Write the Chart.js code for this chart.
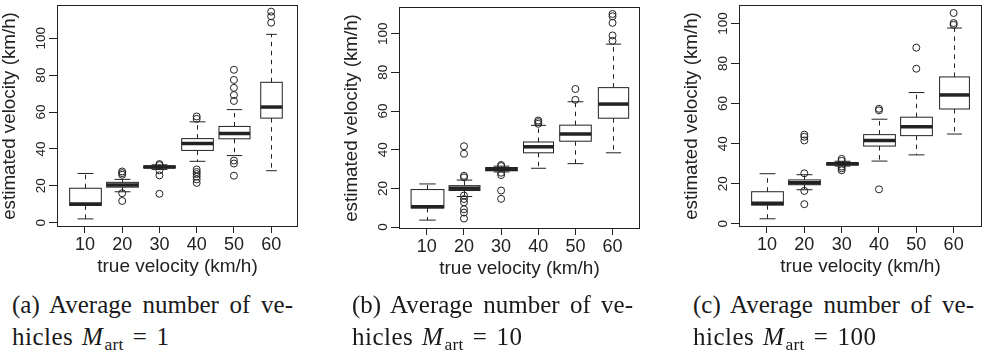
<!DOCTYPE html>
<html>
<head>
<meta charset="utf-8">
<script src="https://cdn.jsdelivr.net/npm/chart.js@4.4.1/dist/chart.umd.min.js"></script>
<style>
  body { margin: 0; background: #fff; }
  #page { position: relative; width: 993px; height: 354px; overflow: hidden; background: #fff; }
  #page canvas { position: absolute; }
  .cap { position: absolute; font-family: "Liberation Serif", "Times New Roman", serif; font-size: 25px; line-height: 20px; color: #1a1a1a; white-space: nowrap; }
  .cap.first { width: 281px; white-space: normal; text-align: justify; text-align-last: justify; }
  .cap.second { letter-spacing: 0.5px; }
  .cap i { margin-left: 2px; }
  .cap sub { font-size: 17.5px; vertical-align: -5px; line-height: 0; letter-spacing: 0.3px; margin-left: 1px; }
  .cap .rel { margin: 0 9px; }
</style>
</head>
<body>
<div id="page">
  <canvas id="velA" width="330" height="290" style="left:0px; top:0px"></canvas>
  <canvas id="velB" width="330" height="290" style="left:342px; top:2px"></canvas>
  <canvas id="velC" width="311" height="290" style="left:682px; top:0px"></canvas>

  <div class="cap first" style="left:12px; top:295px">(a) Average number of ve-</div>
  <div class="cap second" style="left:12px; top:327px">hicles <i>M</i><sub>art</sub><span class="rel">=</span>1</div>
  <div class="cap first" style="left:352px; top:295px">(b) Average number of ve-</div>
  <div class="cap second" style="left:352px; top:327px">hicles <i>M</i><sub>art</sub><span class="rel">=</span>10</div>
  <div class="cap first" style="left:693px; top:295px">(c) Average number of ve-</div>
  <div class="cap second" style="left:693px; top:327px">hicles <i>M</i><sub>art</sub><span class="rel">=</span>100</div>
</div>

<script>
const categories = ['10', '20', '30', '40', '50', '60'];
const yTickValues = [0, 20, 40, 60, 80, 100];

// M_art = 1
const loA  = [2.1, 16.8, 28.9, 33.3, 36.4, 28.2];
const q1A  = [9.4, 19.3, 29.7, 39.2, 45.5, 56.7];
const medA = [10.2, 20.5, 30.2, 43.0, 48.3, 62.7];
const q3A  = [18.7, 21.9, 30.8, 45.6, 52.2, 76.1];
const hiA  = [26.7, 23.5, 31.4, 54.7, 61.3, 102.1];
const outA = [
  [],
  [27.8, 26.9, 26.0, 16.0, 11.8],
  [31.8, 31.2, 28.4, 25.7, 15.7],
  [57.6, 56.3, 28.9, 27.5, 26.4, 25.0, 23.5, 21.6],
  [82.9, 77.4, 73.1, 69.2, 66.0, 33.7, 32.1, 25.5],
  [114.4, 111.9, 108.4]
];
const widthA = [1, 1, 1, 1, 0.98, 0.68];

// M_art = 10
const loB  = [3.6, 15.8, 28.5, 30.4, 32.8, 38.4];
const q1B  = [9.9, 18.9, 29.1, 38.4, 44.4, 56.3];
const medB = [10.5, 20.1, 29.9, 41.5, 48.1, 63.6];
const q3B  = [19.4, 21.4, 30.8, 44.0, 52.7, 72.1];
const hiB  = [22.3, 24.3, 31.5, 52.6, 64.8, 94.6];
const outB = [
  [],
  [41.8, 37.9, 26.5, 25.7, 16.3, 14.5, 12.8, 9.2, 7.5, 4.4],
  [32.1, 31.5, 28.1, 26.9, 18.9, 14.6],
  [55.1, 54.3, 53.4],
  [71.4, 65.8],
  [110.2, 109.0, 105.6, 99.1, 96.3]
];
const widthB = [1.04, 0.98, 1, 0.95, 1, 0.96];

// M_art = 100
const loC  = [2.5, 17.0, 28.8, 31.3, 34.4, 44.8];
const q1C  = [9.3, 19.5, 29.3, 38.8, 44.0, 57.3];
const medC = [10.3, 20.5, 30.0, 41.6, 48.4, 64.3];
const q3C  = [16.0, 21.9, 30.4, 44.5, 53.2, 73.3];
const hiC  = [25.0, 24.5, 31.2, 52.2, 65.5, 97.7];
const outC = [
  [],
  [44.5, 43.4, 41.6, 25.2, 16.4, 9.8],
  [32.4, 31.4, 28.6, 27.7, 26.7],
  [57.4, 56.6, 17.2],
  [87.9, 77.4],
  [105.2, 100.2, 99.3]
];
const widthC = [1, 1, 1, 1, 1, 0.94];

const INK = '#222';
const SANS = '"Liberation Sans", Arial, sans-serif';

// boxes, whiskers and medians, placed with the chart's own scales
function boxPlugin(lo, q1, med, q3, hi, widths) {
  return {
    id: 'boxes',
    beforeDatasetsDraw(chart) {
      const { ctx, scales: { x, y } } = chart;
      const step = x.getPixelForValue(2) - x.getPixelForValue(1);
      ctx.save();
      ctx.strokeStyle = INK;
      categories.forEach((c, i) => {
        const cx = Math.round(x.getPixelForValue(i + 1)) + 0.5;
        const half = step * 0.425 * widths[i];
        const cap = half * 0.5;
        const yLo = y.getPixelForValue(lo[i]);
        const yQ1 = y.getPixelForValue(q1[i]);
        const yMed = y.getPixelForValue(med[i]);
        const yQ3 = y.getPixelForValue(q3[i]);
        const yHi = y.getPixelForValue(hi[i]);

        ctx.lineWidth = 1;
        ctx.setLineDash([4.5, 4.5]);
        ctx.beginPath();
        ctx.moveTo(cx, yQ3); ctx.lineTo(cx, yHi);
        ctx.moveTo(cx, yQ1); ctx.lineTo(cx, yLo);
        ctx.stroke();
        ctx.setLineDash([]);

        ctx.beginPath();
        ctx.moveTo(cx - cap, yHi); ctx.lineTo(cx + cap, yHi);
        ctx.moveTo(cx - cap, yLo); ctx.lineTo(cx + cap, yLo);
        ctx.stroke();

        ctx.fillStyle = '#fff';
        ctx.fillRect(cx - half, yQ3, half * 2, yQ1 - yQ3);
        ctx.strokeRect(cx - half, yQ3, half * 2, yQ1 - yQ3);

        ctx.lineWidth = 3.5;
        ctx.beginPath();
        ctx.moveTo(cx - half, yMed); ctx.lineTo(cx + half, yMed);
        ctx.stroke();
      });
      ctx.restore();
    },
    afterDraw(chart) {
      const { ctx, chartArea: a, scales: { y } } = chart;
      ctx.save();
      ctx.strokeStyle = INK;
      ctx.lineWidth = 1;
      ctx.strokeRect(Math.round(a.left) + 0.5, Math.round(a.top) + 0.5,
        Math.round(a.right - a.left) - 1, Math.round(a.bottom - a.top) - 1);

      // y tick labels run along the axis, read bottom to top
      ctx.fillStyle = INK;
      ctx.font = '13.5px ' + SANS;
      ctx.textAlign = 'center';
      ctx.textBaseline = 'middle';
      y.ticks.forEach(t => {
        ctx.save();
        ctx.translate(a.left - 16, y.getPixelForValue(t.value));
        ctx.rotate(-Math.PI / 2);
        ctx.fillText(String(t.value), 0, 0);
        ctx.restore();
      });
      ctx.restore();
    }
  };
}

function makePanel(id, lo, q1, med, q3, hi, outliers, widths, yMin, yMax, xMax, padRight) {
  const points = [];
  outliers.forEach((vals, i) => vals.forEach(v => points.push({ x: i + 1, y: v })));

  return new Chart(document.getElementById(id), {
    type: 'scatter',
    data: {
      datasets: [{
        data: points,
        pointStyle: 'circle',
        pointRadius: 3.5,
        borderWidth: 1,
        borderColor: INK,
        backgroundColor: 'rgba(0,0,0,0)'
      }]
    },
    options: {
      responsive: false,
      animation: false,
      events: [],
      layout: { padding: { top: 2, right: padRight, bottom: 0, left: 0 } },
      plugins: { legend: { display: false }, tooltip: { enabled: false } },
      scales: {
        x: {
          type: 'linear',
          min: 0.25,
          max: xMax,
          afterBuildTicks: s => { s.ticks = categories.map((c, i) => ({ value: i + 1 })); },
          afterFit: s => { s.height = 63; },
          ticks: {
            callback: (v, i) => categories[i],
            autoSkip: false,
            maxRotation: 0,
            padding: 1,
            color: INK,
            font: { family: SANS, size: 18 }
          },
          grid: { drawOnChartArea: false, tickLength: 6, color: INK },
          border: { display: false },
          title: {
            display: true,
            text: 'true velocity (km/h)',
            color: INK,
            padding: { top: 0, bottom: 14 },
            font: { family: SANS, size: 19, lineHeight: 1 }
          }
        },
        y: {
          type: 'linear',
          min: yMin,
          max: yMax,
          afterBuildTicks: s => { s.ticks = yTickValues.map(v => ({ value: v })); },
          afterFit: s => { s.width = 57; },
          ticks: { display: false, autoSkip: false },
          grid: { drawOnChartArea: false, tickLength: 8, color: INK },
          border: { display: false },
          title: {
            display: true,
            text: 'estimated velocity (km/h)',
            color: INK,
            padding: 0,
            font: { family: SANS, size: 18.8, lineHeight: 1 }
          }
        }
      }
    },
    plugins: [boxPlugin(lo, q1, med, q3, hi, widths)]
  });
}

makePanel('velA', loA, q1A, medA, q3A, hiA, outA, widthA, -2.3, 118.0, 6.72, 32);
makePanel('velB', loB, q1B, medB, q3B, hiB, outB, widthB, -1.0, 113.8, 6.74, 32);
makePanel('velC', loC, q1C, medC, q3C, hiC, outC, widthC, -1.6, 109.2, 6.76, 11);
</script>
</body>
</html>
